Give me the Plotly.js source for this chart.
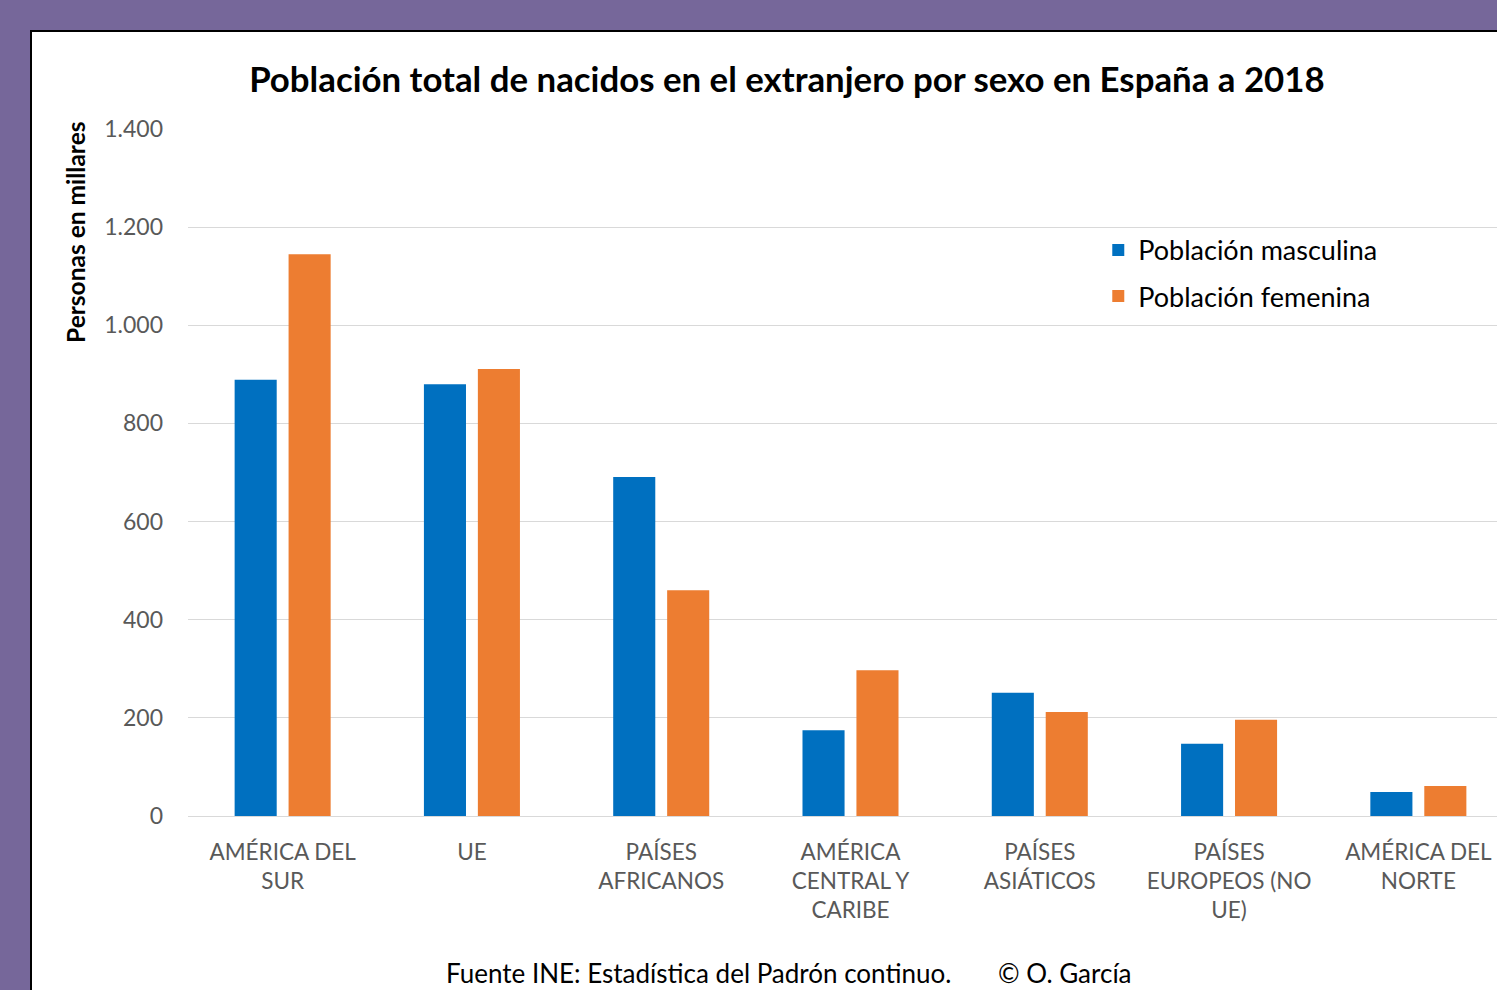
<!DOCTYPE html>
<html>
<head>
<meta charset="utf-8">
<script src="https://cdn.plot.ly/plotly-3.0.1.min.js"></script>
<style>
  html, body { margin: 0; padding: 0; width: 1497px; height: 990px; overflow: hidden; background: #76679a; }
  #frame { position: absolute; left: 30px; top: 30px; width: 1600px; height: 1100px; background: #ffffff; border-left: 2px solid #000; border-top: 2px solid #000; }
  #chart { position: absolute; left: 0px; top: 0px; width: 1560px; height: 1000px; }
</style>
</head>
<body>
<div id="frame"><div id="chart"></div></div>
<script>
const categories = ["AMÉRICA DEL<br>SUR", "UE", "PAÍSES<br>AFRICANOS", "AMÉRICA<br>CENTRAL Y<br>CARIBE", "PAÍSES<br>ASIÁTICOS", "PAÍSES<br>EUROPEOS (NO<br>UE)", "AMÉRICA DEL<br>NORTE"];
const masculina = [889, 880, 691, 175, 251, 147, 49];
const femenina = [1145, 911, 460, 297, 212, 196, 61];
const yTicks = [0, 200, 400, 600, 800, 1000, 1200, 1400];

const FONT = "Lato, 'Open Sans', sans-serif";

const traces = [
  { type: "bar", name: "Población masculina", legendgroup: "m", x: categories, y: masculina, marker: { color: "#0070C0" }, hoverinfo: "y" },
  { type: "bar", name: "Población femenina", legendgroup: "f", x: categories, y: femenina, marker: { color: "#ED7D31" }, hoverinfo: "y" }
];

const layout = {
  width: 1560, height: 1000,
  margin: { l: 156, r: 79, t: 97, b: 216 },
  paper_bgcolor: "rgba(0,0,0,0)",
  plot_bgcolor: "#ffffff",
  separators: ",.",
  barmode: "group",
  bargap: 0.43,
  bargroupgap: 0.22,
  font: { family: FONT, color: "#595959", size: 22 },
  title: {
    text: "<b>Población total de nacidos en el extranjero por sexo en España a 2018</b>",
    font: { family: FONT, size: 34.8, color: "#000000" },
    x: 0.452, xref: "paper", xanchor: "center",
    y: 0.952, yref: "container", yanchor: "middle"
  },
  xaxis: {
    type: "category",
    tickfont: { family: FONT, size: 22.5, color: "#595959" },
    ticks: "", showline: false, showgrid: false, zeroline: false,
    ticklabelstandoff: 20,
    automargin: false
  },
  yaxis: {
    range: [0, 1400],
    tickvals: yTicks,
    separatethousands: true,
    tickformat: ",d",
    tickfont: { family: FONT, size: 23, color: "#595959" },
    gridcolor: "#d9d9d9", gridwidth: 1,
    zeroline: true, zerolinecolor: "#d9d9d9", zerolinewidth: 1,
    showline: false, ticks: "", ticklabelstandoff: 24,
    automargin: false
  },
  legend: {
    x: 0.687, xanchor: "left", y: 0.859, yanchor: "top",
    font: { family: FONT, size: 27, color: "#000000" },
    bgcolor: "rgba(0,0,0,0)",
    tracegroupgap: 8,
    itemwidth: 30
  },
  showlegend: true,
  annotations: [
    {
      text: "<b>Personas en millares</b>",
      textangle: -90,
      xref: "paper", yref: "paper",
      x: -0.085, y: 1.013, xanchor: "center", yanchor: "top",
      showarrow: false,
      font: { family: FONT, size: 24.5, color: "#000000" }
    },
    {
      text: "Fuente INE: Estadística del Padrón continuo.&nbsp;&nbsp;&nbsp;&nbsp;&nbsp;&nbsp;&nbsp;© O. García",
      xref: "paper", yref: "paper",
      x: 0.4536, y: -0.229, xanchor: "center", yanchor: "middle",
      showarrow: false,
      font: { family: FONT, size: 26, color: "#000000" }
    }
  ]
};

Plotly.newPlot("chart", traces, layout, { displayModeBar: false, staticPlot: true });
</script>
</body>
</html>
